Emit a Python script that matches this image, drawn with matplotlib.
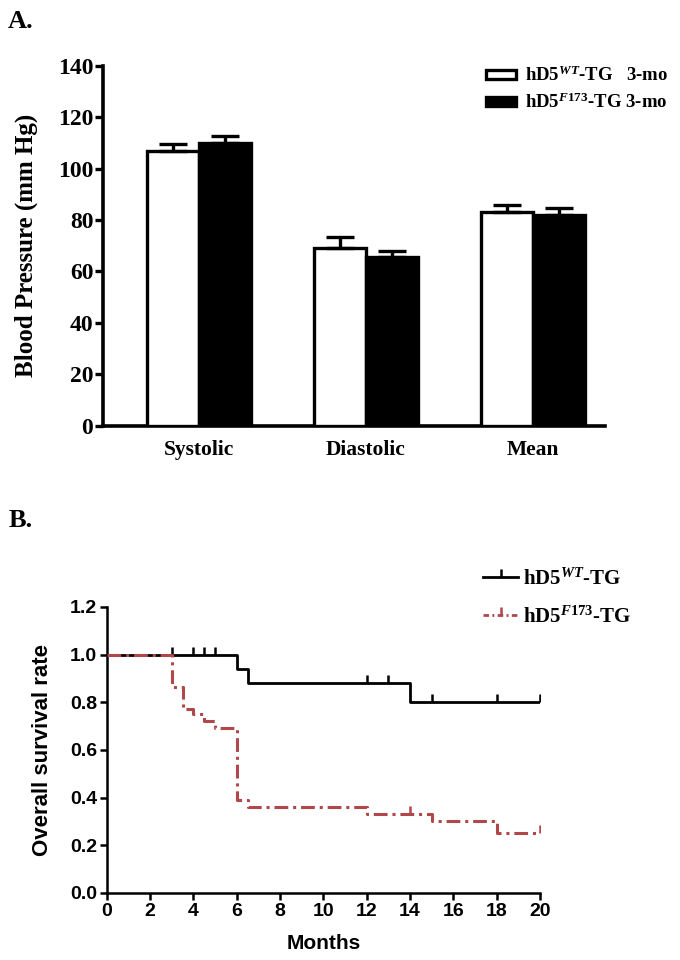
import numpy as np
import matplotlib
matplotlib.use('Agg')
import matplotlib.pyplot as plt
from matplotlib.patches import Patch
from matplotlib.lines import Line2D

# %% data - panel A (blood pressure, mean + sem)
groups = ['Systolic', 'Diastolic', 'Mean']
wt_mean = [107, 69, 83]
wt_sem = [2.5, 4.5, 3.0]
f173_mean = [110, 65.5, 82]
f173_sem = [2.5, 2.5, 2.5]

# %% data - panel B (Kaplan-Meier steps)
wt_time = [0, 6, 6.5, 14, 20]
wt_surv = [1.0, 0.94, 0.88, 0.80, 0.80]
wt_cens = [3, 4, 4.5, 5, 12, 13, 15, 18, 20]

f173_time = [0, 3, 3.5, 4, 4.5, 5, 6, 6.5, 12, 15, 18, 20]
f173_surv = [1.0, 0.866, 0.77, 0.75, 0.72, 0.69, 0.39, 0.36, 0.33, 0.30, 0.25, 0.25]
f173_cens = [14, 20]

month_ticks = [0, 2, 4, 6, 8, 10, 12, 14, 16, 18, 20]
surv_ticks = [0.0, 0.2, 0.4, 0.6, 0.8, 1.0, 1.2]
bp_ticks = [0, 20, 40, 60, 80, 100, 120, 140]

red = '#b0474a'
serif = 'Liberation Serif'
sans = 'Liberation Sans'

plt.rcParams['mathtext.fontset'] = 'custom'
plt.rcParams['mathtext.rm'] = 'Liberation Serif:bold'
plt.rcParams['mathtext.it'] = 'Liberation Serif:italic:bold'
plt.rcParams['mathtext.bf'] = 'Liberation Serif:bold'

fig = plt.figure(figsize=(6.8, 9.6), dpi=100)

# %% Panel A
ax1 = fig.add_axes([0.1515, 0.5566, 0.738, 0.375])
x = np.arange(len(groups))
w = 0.31
ax1.bar(x - w / 2, wt_mean, w, color='white', edgecolor='black', linewidth=2.4,
        yerr=[np.zeros(3), wt_sem], error_kw=dict(ecolor='black', elinewidth=2.4,
                                                   capsize=10, capthick=2.4), zorder=3)
ax1.bar(x + w / 2, f173_mean, w, color='black', edgecolor='black', linewidth=2.4,
        yerr=[np.zeros(3), f173_sem], error_kw=dict(ecolor='black', elinewidth=2.4,
                                                     capsize=10, capthick=2.4), zorder=3)
ax1.set_xlim(-0.575, 2.43)
ax1.set_ylim(0, 140)
ax1.set_yticks(bp_ticks)
ax1.set_yticklabels([str(v) for v in bp_ticks], fontfamily=serif, fontweight='bold', fontsize=17)
ax1.set_xticks(x)
ax1.set_xticklabels(groups, fontfamily=serif, fontweight='bold', fontsize=15.5)
ax1.tick_params(axis='x', length=0, pad=10)
ax1.tick_params(axis='y', length=6, width=2.4, pad=1)
ax1.set_ylabel('Blood Pressure (mm Hg)', fontfamily=serif, fontweight='bold', fontsize=18, labelpad=14)
for s in ['top', 'right']:
    ax1.spines[s].set_visible(False)
for s in ['left', 'bottom']:
    ax1.spines[s].set_linewidth(2.6)

leg1 = [Patch(facecolor='white', edgecolor='black', linewidth=2.4),
        Patch(facecolor='black', edgecolor='black', linewidth=2.4)]
ax1.legend(leg1, [r'hD5$^{\mathit{WT}}$-TG   3-mo', r'hD5$^{\mathit{F173}}$-TG 3-mo'],
           loc='upper left', bbox_to_anchor=(0.745, 1.025), frameon=False, borderpad=0,
           prop={'family': serif, 'weight': 'bold', 'size': 13.5},
           handlelength=1.6, handleheight=0.4, handletextpad=0.45, labelspacing=0.4)

fig.text(0.012, 0.978, 'A.', fontfamily=serif, fontweight='bold', fontsize=19, va='center')

# %% Panel B
ax2 = fig.add_axes([0.157, 0.0698, 0.637, 0.298])


def surv_at(t, times, surv):
    i = np.searchsorted(times, t, side='right') - 1
    return np.array(surv)[i]


ax2.step(wt_time, wt_surv, where='post', color='black', linewidth=2, zorder=3)
ax2.plot(wt_cens, surv_at(wt_cens, wt_time, wt_surv), linestyle='none', marker=2,
         markersize=6, markeredgewidth=1.8, color='black', zorder=3)
ax2.step(f173_time, f173_surv, where='post', color=red, linewidth=2.2,
         dashes=(4.5, 1.6, 1, 1.6), zorder=4)
ax2.plot(f173_cens, surv_at(f173_cens, f173_time, f173_surv), linestyle='none', marker=2,
         markersize=6, markeredgewidth=1.8, color=red, zorder=4)

ax2.set_xlim(0, 20)
ax2.set_ylim(0, 1.2)
ax2.set_xticks(month_ticks)
ax2.set_xticklabels([str(v) for v in month_ticks], fontfamily=sans, fontweight='bold', fontsize=14)
ax2.set_yticks(surv_ticks)
ax2.set_yticklabels(['%.1f' % v for v in surv_ticks], fontfamily=sans, fontweight='bold', fontsize=14)
ax2.tick_params(length=5, width=1.8, pad=2)
ax2.set_xlabel('Months', fontfamily=sans, fontweight='bold', fontsize=15, labelpad=10)
ax2.set_ylabel('Overall survival rate', fontfamily=sans, fontweight='bold', fontsize=16, labelpad=12)
for s in ['top', 'right']:
    ax2.spines[s].set_visible(False)
for s in ['left', 'bottom']:
    ax2.spines[s].set_linewidth(1.8)

leg2 = [Line2D([0], [0], color='black', linewidth=2, marker=2, markersize=6, markeredgewidth=1.8),
        Line2D([0], [0], color=red, linewidth=2, dashes=(2, 1.2, 0.7, 1.2), marker=2,
               markersize=6, markeredgewidth=1.8)]
ax2.legend(leg2, [r'hD5$^{\mathit{WT}}$-TG', r'hD5$^{\mathit{F173}}$-TG'],
           loc='upper left', bbox_to_anchor=(0.825, 1.2), frameon=False, numpoints=1,
           prop={'family': serif, 'weight': 'bold', 'size': 15},
           handlelength=1.7, handletextpad=0.25, labelspacing=0.8)

fig.text(0.012, 0.458, 'B.', fontfamily=serif, fontweight='bold', fontsize=19, va='center')

plt.savefig('out.png', dpi=100)
